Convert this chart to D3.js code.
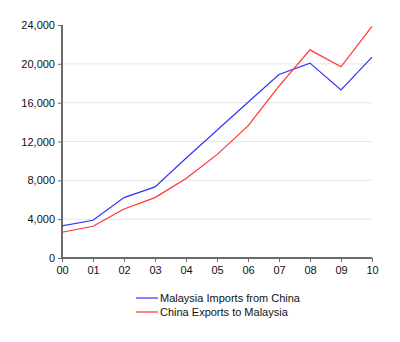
<!DOCTYPE html>
<html>
<head>
<meta charset="utf-8">
<script src="https://cdn.jsdelivr.net/npm/d3@7"></script>
<style>
  body { margin: 0; background: #fff; }
  svg { display: block; font-family: Arial, "Liberation Sans", sans-serif; }
</style>
</head>
<body>
<svg id="chart" width="400" height="342"></svg>
<script>
// Malaysia–China trade, 2000–2010
const years = ["00","01","02","03","04","05","06","07","08","09","10"];
const malaysiaImports = [3300, 3890, 6220, 7320, 10280, 13160, 16050, 18900, 20070, 17320, 20690];
const chinaExports   = [2650, 3270, 5050, 6220, 8200, 10650, 13600, 17700, 21440, 19690, 23850];
const yTicks = [0, 4000, 8000, 12000, 16000, 20000, 24000];
const seriesNames = ["Malaysia Imports from China", "China Exports to Malaysia"];
const seriesColors = ["#3333ff", "#ff3333"];

const svg = d3.select("#chart");
const plotLeft = 62, plotRight = 372, plotTop = 25, plotBottom = 258;

const x = d3.scalePoint().domain(years).range([plotLeft, plotRight]);
const y = d3.scaleLinear().domain([0, 24000]).range([plotBottom, plotTop]);

// horizontal gridlines
svg.append("g").selectAll("line")
  .data(yTicks.filter(d => d > 0 && d < 24000))
  .join("line")
  .attr("x1", plotLeft).attr("x2", plotRight)
  .attr("y1", d => y(d)).attr("y2", d => y(d))
  .attr("stroke", "#e6e6e6").attr("stroke-width", 1);

// y axis
const yAxis = svg.append("g")
  .attr("transform", `translate(${plotLeft},0)`)
  .call(d3.axisLeft(y).tickValues(yTicks).tickFormat(d3.format(",")).tickSize(4).tickPadding(3));
yAxis.select(".domain").attr("stroke", "#6b6b6b").attr("stroke-width", 2).attr("d", `M0,${plotTop}V${plotBottom}`);
yAxis.selectAll(".tick line").attr("stroke", "#6b6b6b");
yAxis.selectAll("text").attr("font-size", 11).attr("fill", "#111");

// x axis
const xAxis = svg.append("g")
  .attr("transform", `translate(0,${plotBottom})`)
  .call(d3.axisBottom(x).tickSize(4).tickPadding(4));
xAxis.select(".domain").attr("stroke", "#6b6b6b").attr("stroke-width", 2).attr("d", `M${plotLeft - 1},0H${plotRight}`);
xAxis.selectAll(".tick line").attr("stroke", "#6b6b6b");
xAxis.selectAll("text").attr("font-size", 11).attr("fill", "#111");

// series lines
const line = d3.line().x((d, i) => x(years[i])).y(d => y(d));
[malaysiaImports, chinaExports].forEach((vals, k) => {
  svg.append("path")
    .datum(vals)
    .attr("d", line)
    .attr("fill", "none")
    .attr("stroke", seriesColors[k])
    .attr("stroke-width", 1.2);
});

// legend
const legend = svg.append("g").attr("transform", "translate(136,298)");
seriesNames.forEach((name, k) => {
  const g = legend.append("g").attr("transform", `translate(0,${k * 14})`);
  g.append("line").attr("x1", 0).attr("x2", 22).attr("y1", 0).attr("y2", 0)
    .attr("stroke", seriesColors[k]).attr("stroke-width", 1.2);
  g.append("text").attr("x", 24).attr("y", 4).attr("font-size", 11).attr("fill", "#111").text(name);
});
</script>
</body>
</html>
